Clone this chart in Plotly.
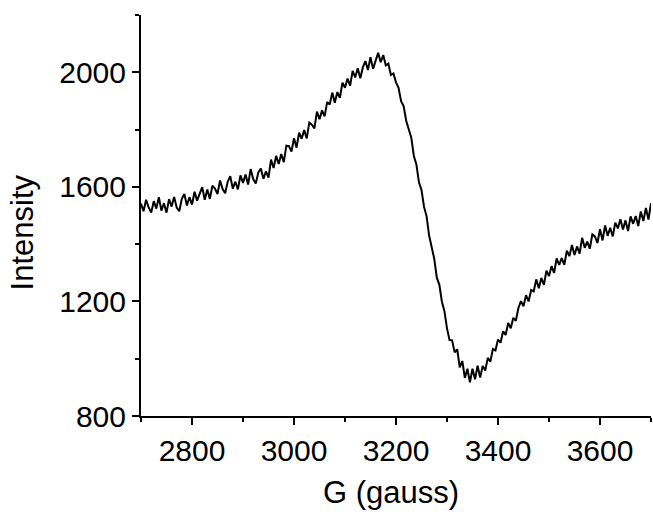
import plotly.graph_objects as go

# Magnetic field sampling grid (gauss), 5 G steps
field_g = list(range(2700, 3705, 5))

# Intensity (noisy EPR derivative line)
intensity = [
    1542, 1515, 1555, 1528, 1510, 1550, 1524, 1564, 1517, 1543,
    1510, 1557, 1531, 1565, 1528, 1515, 1558, 1575, 1535, 1564,
    1538,
    1583, 1552, 1575, 1599, 1555, 1591, 1558, 1604, 1594, 1575,
    1622, 1592, 1578, 1618, 1637, 1594, 1618, 1591, 1640, 1614,
    1643, 1608, 1662, 1627, 1612, 1650, 1664, 1628, 1654, 1632,
    1695, 1666, 1708, 1680, 1715, 1686, 1744, 1742, 1723, 1770,
    1737, 1789, 1768, 1798, 1769, 1824, 1817, 1804, 1863, 1836,
    1867, 1846, 1896, 1887, 1929, 1894, 1931, 1911, 1964, 1946,
    1978, 1953, 2005, 1982, 2014, 1979, 2017, 2039, 2008, 2053,
    2012, 2038, 2068, 2035, 2060, 2024, 2030, 1991, 1996, 1965,
    1946, 1899, 1882, 1831, 1805, 1772, 1708, 1678, 1616, 1589,
    1530, 1497, 1429, 1394, 1349, 1283, 1258, 1199, 1166, 1106,
    1065, 1064, 1022, 1033, 970, 992, 933, 965, 918, 965,
    928, 976, 934, 975, 959, 1003, 990, 1034, 1029, 1067,
    1056, 1096, 1083, 1125, 1106, 1143, 1132, 1177, 1201, 1183,
    1222, 1200, 1240, 1235, 1277, 1246, 1282, 1258, 1307, 1289,
    1323, 1300, 1350, 1328, 1351, 1328, 1377, 1358, 1397, 1362,
    1392, 1367, 1422, 1387, 1409, 1384, 1434, 1427, 1404, 1452,
    1413, 1465, 1429, 1457, 1427, 1475, 1455, 1487, 1451, 1483,
    1446, 1497, 1471, 1498, 1463, 1514, 1481, 1526, 1486, 1543,
]

x_ticks = [2800, 3000, 3200, 3400, 3600]
y_ticks = [800, 1200, 1600, 2000]

x_title = "G (gauss)"
y_title = "Intensity"

FONT = "Arial, Liberation Sans, sans-serif"

fig = go.Figure()
fig.add_trace(go.Scatter(
    x=field_g, y=intensity, mode="lines",
    line=dict(color="black", width=2),
    showlegend=False, hoverinfo="skip",
))

axis_common = dict(
    showline=True, linecolor="black", linewidth=2,
    ticks="outside", ticklen=7, tickwidth=2, tickcolor="black",
    showgrid=False, zeroline=False, mirror=False, automargin=False,
    tickfont=dict(family=FONT, size=30, color="black"),
)

fig.update_xaxes(
    range=[2700, 3700], tickmode="array", tickvals=x_ticks,
    ticktext=[str(v) for v in x_ticks],
    minor=dict(dtick=100, tick0=2700, ticks="outside", ticklen=4,
               tickwidth=2, tickcolor="black", showgrid=False),
    **axis_common,
)
fig.update_yaxes(
    range=[800, 2200], tickmode="array", tickvals=y_ticks,
    ticktext=[str(v) for v in y_ticks],
    minor=dict(dtick=200, tick0=800, ticks="outside", ticklen=4,
               tickwidth=2, tickcolor="black", showgrid=False),
    **axis_common,
)

fig.add_annotation(
    text=x_title, xref="paper", yref="paper", x=0.49, y=-0.19,
    xanchor="center", yanchor="middle", showarrow=False, borderpad=0,
    font=dict(family=FONT, size=31, color="black"),
)
fig.add_annotation(
    text=y_title, xref="paper", yref="paper", x=-0.232, y=0.457,
    xanchor="center", yanchor="middle", showarrow=False, textangle=-90,
    borderpad=0,
    font=dict(family=FONT, size=31, color="black"),
)

fig.update_layout(
    width=653, height=515,
    margin=dict(l=141, r=2, t=15, b=99, pad=0),
    paper_bgcolor="white", plot_bgcolor="white",
    font=dict(family=FONT, color="black"),
)

fig.write_html(
    "out.html",
    config={"displayModeBar": False},
    post_script="document.body.style.margin='0px';document.body.style.padding='0px';",
)
